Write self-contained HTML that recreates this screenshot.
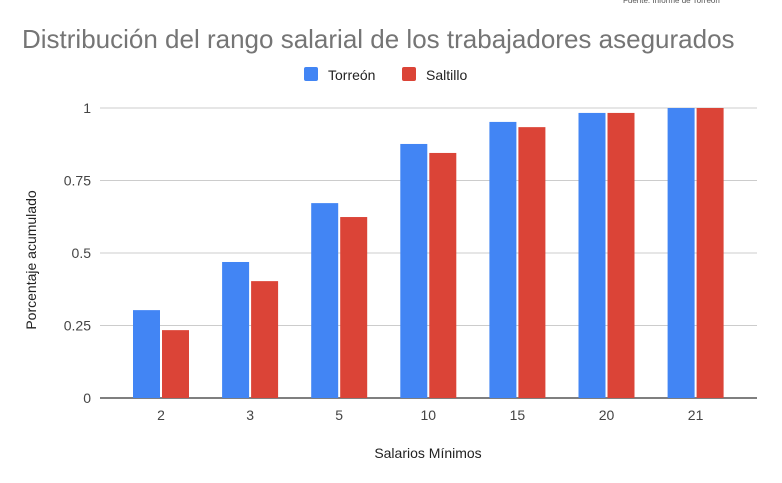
<!DOCTYPE html>
<html><head><meta charset="utf-8"><style>
html,body{margin:0;padding:0;background:#fff;}
svg{display:block;font-family:"Liberation Sans",Roboto,sans-serif;}
</style></head><body>
<svg id="chart" width="782" height="483">
<text x="623" y="3" font-size="8" fill="#555">Fuente: Informe de Torreón</text>
<text x="22" y="48" font-size="26" fill="#757575">Distribución del rango salarial de los trabajadores asegurados</text>
<rect x="304" y="67" width="14" height="14" rx="2" fill="#4285f4"/>
<text x="328" y="80" font-size="14" fill="#222">Torreón</text>
<rect x="402" y="67" width="14" height="14" rx="2" fill="#db4437"/>
<text x="426" y="80" font-size="14" fill="#222">Saltillo</text>
<text transform="translate(36,260) rotate(-90)" text-anchor="middle" font-size="14" fill="#222">Porcentaje acumulado</text>
<text x="428" y="458" text-anchor="middle" font-size="14" fill="#222">Salarios Mínimos</text>
<g id="grid"></g><g id="bars"></g><g id="xlabels"></g>
</svg>
<script>
const categories=["2","3","5","10","15","20","21"];
const torreon=[0.303,0.469,0.672,0.876,0.952,0.983,1.0];
const saltillo=[0.234,0.403,0.624,0.845,0.934,0.983,1.0];
const yTicks=[0,0.25,0.5,0.75,1];
const yTickLabels=["0","0.25","0.5","0.75","1"];
const NS="http://www.w3.org/2000/svg";
const y0=398,y1=108,left=100,right=757,c0=161,step=89.1,bw=27;
function yScale(v){return y0-(y0-y1)*v;}
function xCenter(i){return c0+i*step;}
const grid=document.getElementById('grid');
yTicks.forEach((t,i)=>{
  const l=document.createElementNS(NS,'line');
  l.setAttribute('x1',left);l.setAttribute('x2',right);
  l.setAttribute('y1',yScale(t));l.setAttribute('y2',yScale(t));
  l.setAttribute('stroke',t===0?'#333':'#ccc');l.setAttribute('stroke-width',t===0?1.2:1);
  
  
  grid.appendChild(l);
  const tx=document.createElementNS(NS,'text');
  tx.setAttribute('x',91);tx.setAttribute('y',yScale(t)+5);
  tx.setAttribute('text-anchor','end');tx.setAttribute('font-size','14');tx.setAttribute('fill','#444');
  tx.textContent=yTickLabels[i];
  
  
  grid.appendChild(tx);
});
const bars=document.getElementById('bars'),xl=document.getElementById('xlabels');
categories.forEach((c,i)=>{
  [[torreon,'#4285f4',-bw-1,'bar-torreon'],[saltillo,'#db4437',1,'bar-saltillo']].forEach(s=>{
    const r=document.createElementNS(NS,'rect');
    const top=yScale(s[0][i]);
    r.setAttribute('x',xCenter(i)+s[2]);r.setAttribute('y',top);
    r.setAttribute('width',bw);r.setAttribute('height',y0-top);
    r.setAttribute('fill',s[1]);
    
    
    bars.appendChild(r);
  });
  const t=document.createElementNS(NS,'text');
  t.setAttribute('x',xCenter(i));t.setAttribute('y',420);
  t.setAttribute('text-anchor','middle');t.setAttribute('font-size','14');t.setAttribute('fill','#444');
  t.textContent=c;
  
  
  xl.appendChild(t);
});
</script>
</body></html>
